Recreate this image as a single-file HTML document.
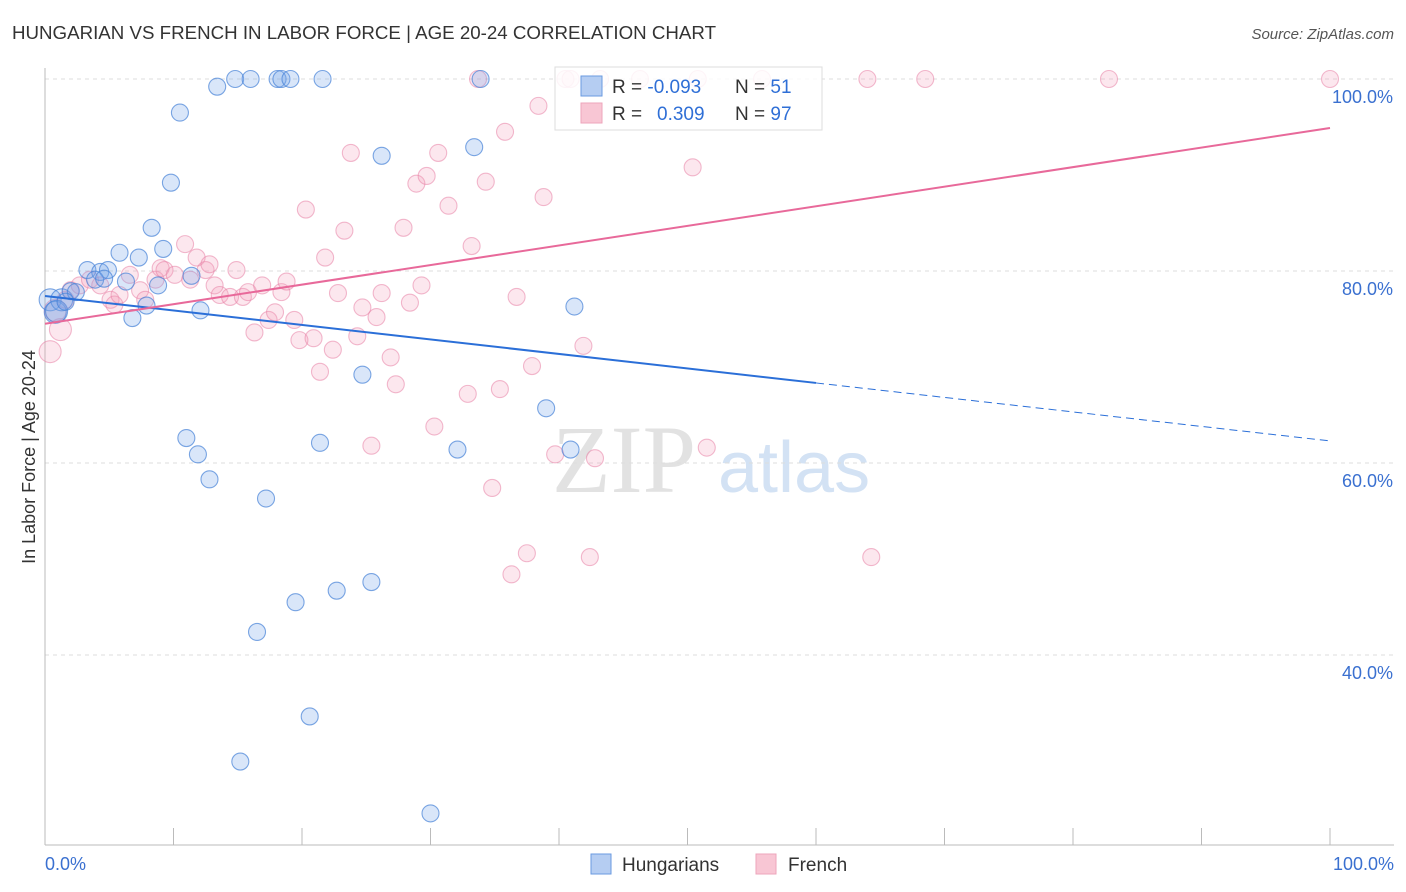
<!DOCTYPE html>
<html><head><meta charset="utf-8"><style>
body{margin:0;background:#fff;font-family:"Liberation Sans",sans-serif}
</style></head><body>
<svg id="chart" width="1406" height="892" style="display:block">
<text x="12" y="39" font-size="18" fill="#333" textLength="704" lengthAdjust="spacingAndGlyphs">HUNGARIAN VS FRENCH IN LABOR FORCE | AGE 20-24 CORRELATION CHART</text>
<text x="1394" y="39" font-size="15" fill="#555" font-style="italic" text-anchor="end">Source: ZipAtlas.com</text>
<text x="35" y="457" font-size="18" fill="#333" text-anchor="middle" transform="rotate(-90 35 457)">In Labor Force | Age 20-24</text>
<g>
<text x="552" y="492" font-size="96" font-family="Liberation Serif,serif" fill="#e2e2e2">ZIP</text>
<text x="718" y="492" font-size="72" fill="#d3e2f4">atlas</text>
</g>
<g id="grid"></g><g id="axes"></g><g id="pts"></g><g id="trends"></g>
<g>
<rect x="555" y="67" width="267" height="63" fill="rgba(255,255,255,0.85)" stroke="#ddd"/>
<rect x="581" y="76" width="21" height="20" fill="#b5cdf2" stroke="#6a9ae0"/>
<rect x="581" y="103" width="21" height="20" fill="#f8c6d4" stroke="#eea5bb"/>
<text x="612" y="93" font-size="19" fill="#333">R = <tspan fill="#2f6fd6">-0.093</tspan><tspan x="735">N = </tspan><tspan fill="#2f6fd6">51</tspan></text>
<text x="612" y="120" font-size="19" fill="#333">R = <tspan x="657" fill="#2f6fd6">0.309</tspan><tspan x="735">N = </tspan><tspan fill="#2f6fd6">97</tspan></text>
</g>
<g>
<rect x="591" y="854" width="20" height="20" fill="#b5cdf2" stroke="#6a9ae0"/>
<text x="622" y="871" font-size="19" fill="#333">Hungarians</text>
<rect x="756" y="854" width="20" height="20" fill="#f8c6d4" stroke="#eea5bb"/>
<text x="788" y="871" font-size="19" fill="#333">French</text>
</g>
</svg>
<script>
const yTicks=[100,80,60,40];
const yTickLabels=["100.0%","80.0%","60.0%","40.0%"];
const xTicks=[0,10,20,30,40,50,60,70,80,90,100];
const hunX=[0.4,0.8,1.3,2.0,3.3,4.3,4.9,3.9,2.4,5.8,6.3,7.3,6.8,7.9,8.3,8.8,9.2,9.8,10.5,11.0,11.9,12.1,11.4,12.8,13.4,14.8,16,16.5,15.2,17.2,18.1,18.4,19.1,19.5,20.6,21.4,21.6,22.7,24.7,25.4,26.2,30,32.1,33.4,33.9,39,40.9,41.2,0.9,1.6,4.6];
const hunY=[77.0,75.7,77,77.9,80.1,79.9,80.1,79.1,77.8,81.9,78.9,81.4,75.1,76.4,84.5,78.5,82.3,89.2,96.5,62.6,60.9,75.9,79.5,58.3,99.2,100,100,42.4,28.9,56.3,100,100,100,45.5,33.6,62.1,100,46.7,69.2,47.6,92,23.5,61.4,92.9,100,65.7,61.4,76.3,75.8,76.8,79.2];
const frX=[0.4,0.8,1.2,1.6,2,2.7,3.5,4.3,5.1,5.4,5.8,6.6,7.4,7.8,8.6,9,9.3,10.1,10.9,11.3,11.8,12.5,12.8,13.2,13.6,14.4,14.9,15.4,15.8,16.3,16.9,17.4,17.9,18.4,18.8,19.4,19.8,20.3,20.9,21.4,21.8,22.4,22.8,23.3,23.8,24.3,24.7,25.4,25.8,26.2,26.9,27.3,27.9,28.4,28.9,29.3,29.7,30.3,30.6,31.4,32.9,33.2,33.7,34.3,34.8,35.4,35.8,36.3,36.7,37.5,37.9,38.4,38.8,39.7,40.5,40.9,41.9,42.4,42.8,43.2,46.3,50.4,50.8,51.5,55.8,64,64.3,68.5,82.8,100];
const frY=[71.6,75.9,73.9,77,78,78.5,79.1,78.5,77,76.5,77.5,79.6,78,77,79.1,80.3,80.1,79.6,82.8,79.1,81.4,80.1,80.7,78.5,77.5,77.3,80.1,77.3,77.8,73.6,78.5,74.9,75.7,77.8,78.9,74.9,72.8,86.4,73,69.5,81.4,71.8,77.7,84.2,92.3,73.2,76.2,61.8,75.2,77.7,71,68.2,84.5,76.7,89.1,78.5,89.9,63.8,92.3,86.8,67.2,82.6,100,89.3,57.4,67.7,94.5,48.4,77.3,50.6,70.1,97.2,87.7,60.9,100,100,72.2,50.2,60.5,100,100,90.8,100,61.6,100,100,50.2,100,100,100];
const hunTrend=[77.4,62.3];
const hunSolidEnd=60;
const frTrend=[74.5,94.9];
const X=v=>45+v*12.85, Y=v=>1039-v*9.6;
const NS="http://www.w3.org/2000/svg";
function mk(tag,attrs,parent){const e=document.createElementNS(NS,tag);for(const k in attrs)e.setAttribute(k,attrs[k]);document.getElementById(parent).appendChild(e);return e;}
yTicks.forEach((t,i)=>{
 const l=mk('line',{x1:45,x2:1394,y1:Y(t),y2:Y(t),stroke:'#ddd','stroke-dasharray':'4,4'},'grid');
 
 
 const tx=mk('text',{x:1393,y:Y(t)+24,'font-size':18,fill:'#3a70d0','text-anchor':'end'},'grid');
 tx.textContent=yTickLabels[i];
 
 
});
const ax=mk('line',{x1:45,x2:45,y1:68,y2:845,stroke:'#bbb'},'axes');


const bx=mk('line',{x1:45,x2:1394,y1:845,y2:845,stroke:'#bbb'},'axes');


xTicks.forEach(t=>{
 const l=mk('line',{x1:X(t),x2:X(t),y1:828,y2:845,stroke:'#bbb'},'axes');
 
 
});
[[0,"0.0%","start",45],[100,"100.0%","end",1394]].forEach(d=>{
 const tx=mk('text',{x:d[3],y:870,'font-size':18,fill:'#3a70d0','text-anchor':d[2]},'axes');
 tx.textContent=d[1];
 
 
});
function dots(xs,ys,fill,stroke,name){
 xs.forEach((x,i)=>{
  const r=(x<1.5)?11:8.5;
  const c=mk('circle',{cx:X(x),cy:Y(ys[i]),r:r,fill:fill,stroke:stroke,'stroke-width':1.1},'pts');
  
  
 });
}
dots(frX,frY,'rgba(244,160,188,0.25)','rgba(232,130,165,0.55)','french-point');
dots(hunX,hunY,'rgba(120,165,235,0.28)','rgba(70,130,215,0.7)','hungarian-point');
const hAt=x=>hunTrend[0]+(hunTrend[1]-hunTrend[0])*x/100;
const h1=mk('line',{x1:X(0),y1:Y(hAt(0)),x2:X(hunSolidEnd),y2:Y(hAt(hunSolidEnd)),stroke:'#2b6fd8','stroke-width':2},'trends');


const h2=mk('line',{x1:X(hunSolidEnd),y1:Y(hAt(hunSolidEnd)),x2:X(100),y2:Y(hAt(100)),stroke:'#2b6fd8','stroke-width':1,'stroke-dasharray':'8,5'},'trends');


const f1=mk('line',{x1:X(0),y1:Y(frTrend[0]),x2:X(100),y2:Y(frTrend[1]),stroke:'#e8699a','stroke-width':2},'trends');


</script>
</body></html>
